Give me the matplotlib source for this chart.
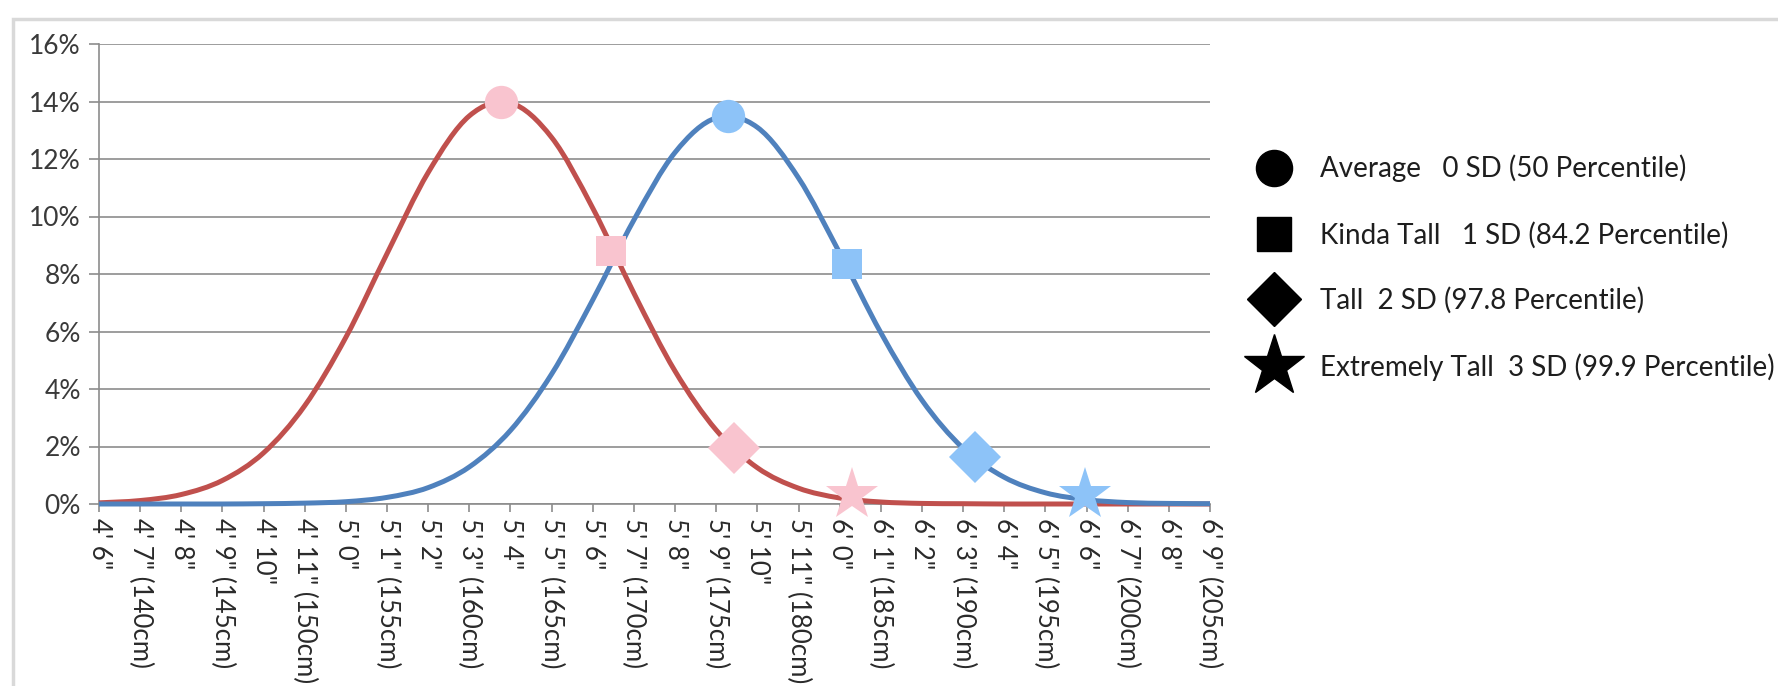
import numpy as np
import matplotlib.pyplot as plt
from matplotlib.path import Path
from matplotlib.patches import PathPatch, Rectangle
from matplotlib.lines import Line2D

plt.rcParams['font.family'] = ['Lato', 'DejaVu Sans']

# height in inches, one point per tick (4'6" .. 6'9")
inches = list(range(54, 82))
tick_labels = ["4' 6\"", "4' 7\" (140cm)", "4' 8\"", "4' 9\" (145cm)", "4' 10\"",
               "4' 11\" (150cm)", "5' 0\"", "5' 1\" (155cm)", "5' 2\"", "5' 3\" (160cm)",
               "5' 4\"", "5' 5\" (165cm)", "5' 6\"", "5' 7\" (170cm)", "5' 8\"",
               "5' 9\" (175cm)", "5' 10\"", "5' 11\" (180cm)", "6' 0\"", "6' 1\" (185cm)",
               "6' 2\"", "6' 3\" (190cm)", "6' 4\"", "6' 5\" (195cm)", "6' 6\"",
               "6' 7\" (200cm)", "6' 8\"", "6' 9\" (205cm)"]

# percent of people at each height
women = [0.04, 0.12, 0.33, 0.82, 1.78, 3.42, 5.80, 8.71, 11.53, 13.50,
         13.95, 12.75, 10.29, 7.33, 4.62, 2.57, 1.26, 0.55, 0.21, 0.07,
         0.02, 0.01, 0.0, 0.0, 0.0, 0.0, 0.0, 0.0]
men = [0.0, 0.0, 0.0, 0.0, 0.01, 0.03, 0.08, 0.23, 0.57, 1.29,
       2.56, 4.52, 7.10, 9.88, 12.23, 13.43, 13.10, 11.34, 8.73, 5.96,
       3.61, 1.94, 0.93, 0.39, 0.15, 0.05, 0.02, 0.01]

# marker points: average, 1 SD, 2 SD, 3 SD
women_pts_x = [63.77, 66.45, 69.43, 72.3]
women_pts_y = [14.0, 8.8, 1.95, 0.3]
men_pts_x = [69.29, 72.18, 75.29, 77.96]
men_pts_y = [13.5, 8.35, 1.65, 0.3]

legend_labels = ["Average   0 SD (50 Percentile)",
                 "Kinda Tall   1 SD (84.2 Percentile)",
                 "Tall  2 SD (97.8 Percentile)",
                 "Extremely Tall  3 SD (99.9 Percentile)"]


def smooth_path(x, y):
    # Catmull-Rom through the points, like Excel's smoothed line
    x = np.asarray(x, float)
    y = np.asarray(y, float)
    verts = [(x[0], y[0])]
    codes = [Path.MOVETO]
    n = len(x)
    for i in range(n - 1):
        p0 = (x[max(i - 1, 0)], y[max(i - 1, 0)])
        p1 = (x[i], y[i])
        p2 = (x[i + 1], y[i + 1])
        p3 = (x[min(i + 2, n - 1)], y[min(i + 2, n - 1)])
        c1 = (p1[0] + (p2[0] - p0[0]) / 6, p1[1] + (p2[1] - p0[1]) / 6)
        c2 = (p2[0] - (p3[0] - p1[0]) / 6, p2[1] - (p3[1] - p1[1]) / 6)
        verts += [c1, c2, p2]
        codes += [Path.CURVE4] * 3
    return Path(verts, codes)


fig = plt.figure(figsize=(17.78, 6.86), dpi=100)
ax = fig.add_axes([99 / 1778, 1 - 504 / 686, (1210 - 99) / 1778, (504 - 44) / 686])

grid_col = '#8c8c8c'
ax.set_xlim(54, 81)
ax.set_ylim(0, 16)
ax.set_yticks(range(0, 17, 2))
ax.set_yticklabels([f"{v}%" for v in range(0, 17, 2)])
ax.set_xticks(inches)
ax.set_xticklabels(tick_labels, rotation=270, va='top', ha='center')
ax.grid(axis='y', color=grid_col, linewidth=1.2)
ax.set_axisbelow(True)
for s in ['top', 'right']:
    ax.spines[s].set_visible(False)
for s in ['left', 'bottom']:
    ax.spines[s].set_color(grid_col)
    ax.spines[s].set_linewidth(1.2)
ax.tick_params(axis='y', length=7, width=1.2, color=grid_col, labelsize=19,
               labelcolor='#3a3a3a', pad=6)
ax.tick_params(axis='x', length=6, width=1.2, color=grid_col, labelsize=18.5,
               labelcolor='#2a2a2a', pad=4)

ax.add_patch(PathPatch(smooth_path(inches, women), facecolor='none',
                       edgecolor='#C0504D', linewidth=3.6, zorder=3, clip_on=False))
ax.add_patch(PathPatch(smooth_path(inches, men), facecolor='none',
                       edgecolor='#4F81BD', linewidth=3.6, zorder=3, clip_on=False))

markers = ['o', 's', 'D', '*']
sizes = [24, 22, 26, 40]
for i in range(4):
    ax.plot(women_pts_x[i], women_pts_y[i], marker=markers[i], markersize=sizes[i],
            color='#F9C4CF', markeredgewidth=0, zorder=4, clip_on=False)
    ax.plot(men_pts_x[i], men_pts_y[i], marker=markers[i], markersize=sizes[i],
            color='#8DC3F8', markeredgewidth=0, zorder=4, clip_on=False)

handles = [Line2D([], [], linestyle='none', marker=m, color='black', markersize=s)
           for m, s in zip(markers, [26, 24, 28, 46])]
fig.legend(handles, legend_labels, loc='upper left', bbox_to_anchor=(1238 / 1778, 1 - 141 / 686),
           frameon=False, fontsize=20, labelspacing=1.4, handletextpad=0.85,
           handlelength=1.6, borderpad=0, labelcolor='#1e1e1e')

# light frame of the chart area
fig.add_artist(Rectangle((13 / 1778, -0.1), 1.2, 1.1 - 20 / 686 + 0.001,
                         transform=fig.transFigure, facecolor='none',
                         edgecolor='#d9d9d9', linewidth=2.5))

fig.savefig('out.png', dpi=100, facecolor='white')
